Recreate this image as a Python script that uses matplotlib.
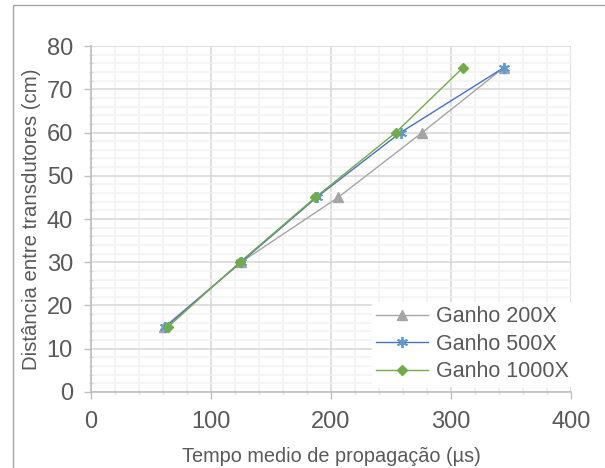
import matplotlib.pyplot as plt
from matplotlib.patches import Rectangle
from matplotlib.ticker import MultipleLocator

plt.rcParams['font.family'] = ['Liberation Sans', 'DejaVu Sans']

# data
dist = [15, 30, 45, 60, 75]
t200 = [61, 125, 206, 276, 344]
t500 = [62, 125, 188, 258, 344]
t1000 = [64, 124, 187, 254, 310]
labels = ['Ganho 200X', 'Ganho 500X', 'Ganho 1000X']

txt = '#595959'

fig = plt.figure(figsize=(6.05, 4.68), dpi=100)
ax = fig.add_axes([0.1504, 0.1624, 0.7934, 0.7393])

# chart-area border (clipped at right/bottom like the reference)
fig.patches.append(Rectangle((13/605, -0.1), 1.2, 1 - 5/468 + 0.1,
                             transform=fig.transFigure, fill=False,
                             edgecolor='#A6A6A6', lw=1.0, zorder=0))

ax.plot(t200, dist, color='#A5A5A5', lw=1, marker='^', ms=7,
        mfc='#A5A5A5', mec='#A5A5A5', label=labels[0], zorder=3)
ax.plot(t500, dist, color='#4472C4', lw=1, marker=(6, 2, 0), ms=8,
        mec='#5B9BD5', mew=1.3, label=labels[1], zorder=4)
ax.plot(t1000, dist, color='#70AD47', lw=1, marker='D', ms=5.5,
        mfc='#70AD47', mec='#70AD47', label=labels[2], zorder=5)

ax.set_xlim(0, 400)
ax.set_ylim(0, 80)
ax.xaxis.set_major_locator(MultipleLocator(100))
ax.xaxis.set_minor_locator(MultipleLocator(20))
ax.yaxis.set_major_locator(MultipleLocator(10))
ax.yaxis.set_minor_locator(MultipleLocator(2))

ax.grid(which='major', color='#D9D9D9', lw=1.2)
ax.grid(which='minor', color='#F2F2F2', lw=1.2)
ax.set_axisbelow(True)

for s in ['top', 'right']:
    ax.spines[s].set_visible(False)
for s in ['left', 'bottom']:
    ax.spines[s].set_color('#BFBFBF')
    ax.spines[s].set_linewidth(1.2)

ax.tick_params(which='major', colors='#BFBFBF', labelcolor=txt,
               labelsize=17, length=5, width=1)
ax.tick_params(axis='x', which='major', pad=8.5)
ax.tick_params(axis='y', which='major', pad=8)
ax.tick_params(which='minor', colors='#D9D9D9', length=3, width=1,
               direction='inout')

ax.set_xlabel('Tempo medio de propagação (µs)', fontsize=14.3, color=txt,
              labelpad=10.5)
ax.set_ylabel('Distância entre transdutores (cm)', fontsize=14.7, color=txt,
              labelpad=4)

leg = ax.legend(loc='upper left', bbox_to_anchor=(372/605, 1 - 302/468),
                bbox_transform=fig.transFigure, fontsize=15.5,
                frameon=True, facecolor='white', edgecolor='none',
                framealpha=1, fancybox=False, handlelength=2.4,
                handletextpad=0.35, labelspacing=0.3, borderpad=0.2,
                borderaxespad=0)
for t in leg.get_texts():
    t.set_color(txt)

fig.savefig('out.png', dpi=100)
